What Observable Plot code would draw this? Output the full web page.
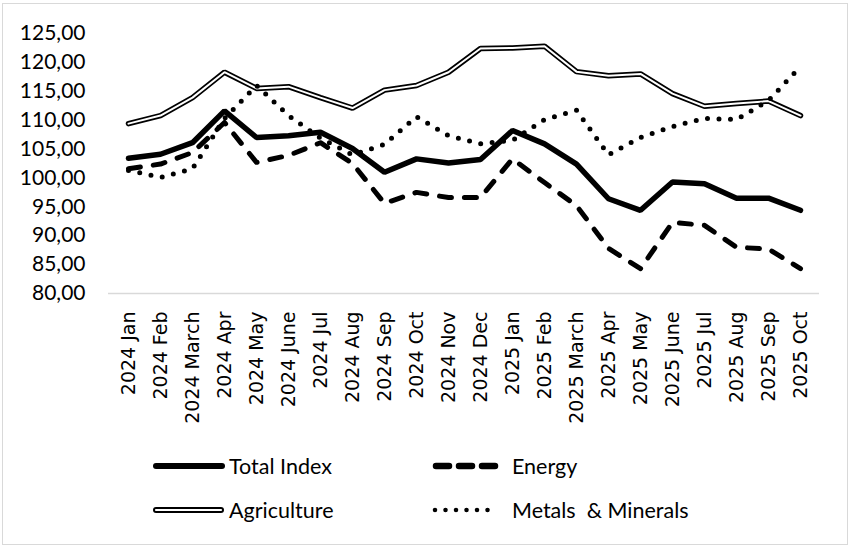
<!DOCTYPE html>
<html>
<head>
<meta charset="utf-8">
<script src="https://cdn.jsdelivr.net/npm/d3@7"></script>
<script src="https://cdn.jsdelivr.net/npm/@observablehq/plot@0.6"></script>
<style>
  body { margin: 0; background: #fff; width: 848px; height: 545px; position: relative; overflow: hidden; }
  #frame { position: absolute; left: 2px; top: 3px; width: 844px; height: 540px; border: 1px solid #d9d9d9; pointer-events: none; }
  #chart { position: absolute; left: 0; top: 0; }
  #legend { position: absolute; left: 0; top: 0; width: 848px; height: 545px; font-family: Lato, sans-serif; font-size: 21.5px; color: #000; pointer-events: none; }
  .item { position: absolute; display: flex; align-items: center; height: 28px; }
  .item svg { display: block; }
  .item span { white-space: pre; line-height: 28px; }
  #chart svg g.xt text { font-family: "DejaVu Sans", Verdana, sans-serif !important; font-size: 19px !important; }
  #chart svg g.yt text { font-family: Lato, sans-serif !important; font-size: 21px !important; }
</style>
</head>
<body>
<div id="chart"></div>
<div id="legend"></div>
<div id="frame"></div>
<script>
const months = ["2024 Jan","2024 Feb","2024 March","2024 Apr","2024 May","2024 June","2024 Jul","2024 Aug","2024 Sep","2024 Oct","2024 Nov","2024 Dec","2025 Jan","2025 Feb","2025 March","2025 Apr","2025 May","2025 June","2025 Jul","2025 Aug","2025 Sep","2025 Oct"];
const totalIndex  = [103.4,104.1,106.1,111.6,107.0,107.3,107.9,105.1,101.0,103.3,102.6,103.2,108.2,105.9,102.4,96.4,94.4,99.3,99.0,96.5,96.5,94.4];
const energy      = [101.6,102.4,104.4,109.6,102.7,103.9,106.1,102.5,95.6,97.5,96.6,96.6,103.3,99.2,95.2,87.8,84.3,92.3,91.8,88.0,87.7,84.3];
const agriculture = [109.4,110.8,113.9,118.3,115.5,115.8,113.9,112.1,115.2,116.0,118.3,122.4,122.5,122.8,118.4,117.7,118.0,114.6,112.4,112.9,113.3,110.8];
const metals      = [101.3,100.1,101.6,110.3,116.0,110.8,106.9,104.0,105.8,110.6,107.3,105.9,106.5,110.1,111.7,104.0,107.0,108.9,110.3,110.1,113.4,119.3];
const yTicks = [80,85,90,95,100,105,110,115,120,125];
const seriesNames = ["Total Index","Energy","Agriculture","Metals  & Minerals"];

const rows = (vals) => months.map((m, i) => ({month: m, value: vals[i]}));
const fmt = v => v.toFixed(2).replace(".", ",");

const plot = Plot.plot({
  width: 848,
  height: 440,
  marginLeft: 108,
  marginRight: 29,
  marginTop: 33,
  marginBottom: 147,
  x: {type: "point", domain: months, padding: 0.5, label: null},
  y: {domain: [80, 125], ticks: yTicks, label: null, tickFormat: fmt},
  style: {background: "transparent", color: "#000"},
  marks: [
    Plot.axisY({ticks: yTicks, tickSize: 0, tickPadding: 23, tickFormat: fmt, label: null, className: "yt", fontSize: 21, fontFamily: "Lato"}),
    Plot.axisX({tickSize: 0, tickPadding: 18, tickRotate: -90, label: null, className: "xt", fontSize: 19, fontFamily: "DejaVu Sans"}),
    Plot.ruleY([80], {stroke: "#d9d9d9", strokeWidth: 1.5}),
    Plot.line(rows(agriculture), {x: "month", y: "value", stroke: "#000", strokeWidth: 5.5, strokeLinejoin: "miter"}),
    Plot.line(rows(agriculture), {x: "month", y: "value", stroke: "#fff", strokeWidth: 2, strokeLinejoin: "miter"}),
    Plot.line(rows(metals), {x: "month", y: "value", stroke: "#000", strokeWidth: 5, strokeDasharray: "0,11.5", strokeLinecap: "round"}),
    Plot.line(rows(energy), {x: "month", y: "value", stroke: "#000", strokeWidth: 5, strokeDasharray: "12,13", strokeLinecap: "round"}),
    Plot.line(rows(totalIndex), {x: "month", y: "value", stroke: "#000", strokeWidth: 5.5, strokeLinejoin: "miter"})
  ]
});
document.getElementById("chart").appendChild(plot);

const svg = d3.select(plot);
svg.selectAll("g.xt text, g[aria-label='x-axis tick label'] text")
  .attr("font-family", "DejaVu Sans").attr("font-size", 19)
  .style("font-family", "DejaVu Sans").style("font-size", "19px");
svg.selectAll("g.yt text, g[aria-label='y-axis tick label'] text")
  .attr("font-family", "Lato").attr("font-size", 21)
  .style("font-family", "Lato").style("font-size", "21px");

// Legend
const legend = d3.select("#legend");
const items = [
  {name: seriesNames[0], left: 150, cy: 466, kind: "solid", textX: 229},
  {name: seriesNames[1], left: 430, cy: 466, kind: "dash", textX: 512},
  {name: seriesNames[2], left: 150, cy: 510, kind: "double", textX: 229},
  {name: seriesNames[3], left: 430, cy: 510, kind: "dot", textX: 512}
];
items.forEach(it => {
  const div = legend.append("div").attr("class", "item").style("left", it.left + "px").style("top", (it.cy - 14) + "px");
  const w = it.textX - it.left;
  const s = div.append("svg").attr("width", w).attr("height", 28);
  const line = (x1, x2, sw, color, dash) => {
    const l = s.append("line").attr("x1", x1).attr("x2", x2).attr("y1", 14).attr("y2", 14)
      .attr("stroke", color).attr("stroke-width", sw).attr("stroke-linecap", "round");
    if (dash) l.attr("stroke-dasharray", dash);
  };
  if (it.kind === "solid") {
    line(6, 72, 6, "#000");
  } else if (it.kind === "double") {
    line(6, 71, 6, "#000");
    line(6, 71, 2.2, "#fff");
  } else if (it.kind === "dash") {
    line(6, 68, 6.5, "#000", "13,10");
  } else {
    line(5, 68, 4.5, "#000", "0,10.5");
  }
  div.append("span").text(it.name);
});
</script>
</body>
</html>
